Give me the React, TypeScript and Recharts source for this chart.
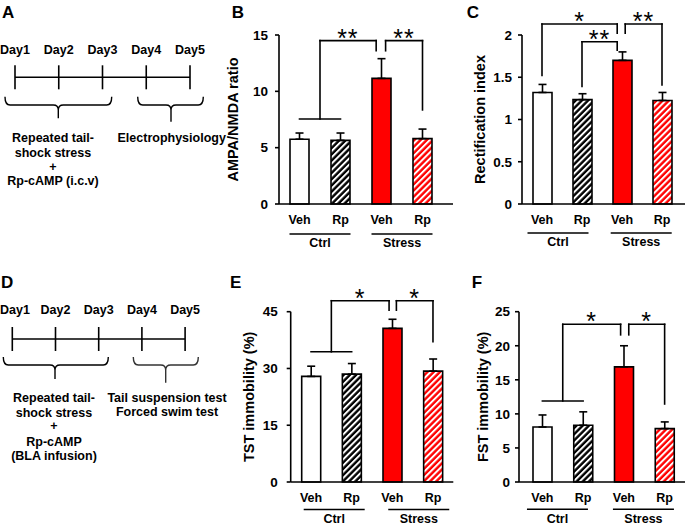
import React from 'react';
import { BarChart, Bar, XAxis, YAxis, ErrorBar, ReferenceLine, ReferenceDot, Cell } from 'recharts';

const FONT = '"Liberation Sans", Arial, Helvetica, sans-serif';
const STAR_FONT = '"Liberation Sans", Arial, sans-serif';

// ---------- categories ----------
const treatments = ['Veh', 'Rp', 'Veh', 'Rp'];
const barIndex = [0, 1, 2, 3];
const conditions = ['Ctrl', 'Stress'];

// ---------- B: AMPA/NMDA ratio ----------
const ampaMean = [5.75, 5.65, 11.15, 5.8];
const ampaSem = [0.55, 0.65, 1.75, 0.85];
const ampaTicks = [0, 5, 10, 15];
const ampaGroupCenters = [0.5, 2.5];
const ampaBrackets: number[][][] = [
  [[0, 7.55], [1, 7.55]],
  [[0.5, 7.55], [0.5, 14.5], [1.87, 14.5], [1.87, 13.6]],
  [[2.1, 13.6], [2.1, 14.5], [3, 14.5], [3, 8.35]],
];
const ampaStarPos = [[1.18, 14.5], [2.55, 14.5]];
const ampaStarText = ['**', '**'];

// ---------- C: Rectification index ----------
const rectMean = [1.32, 1.235, 1.7, 1.225];
const rectSem = [0.095, 0.07, 0.1, 0.095];
const rectTicks = [0, 0.5, 1, 1.5, 2];
const rectGroupCenters = [0.4, 2.48];
const rectBrackets: number[][][] = [
  [[0, 1.52], [0, 2.13], [1.88, 2.13], [1.88, 2.02]],
  [[1, 1.39], [1, 1.92], [1.88, 1.92], [1.88, 1.82]],
  [[2.08, 2.02], [2.08, 2.13], [3, 2.13], [3, 1.41]],
];
const rectStarPos = [[0.94, 2.13], [1.44, 1.92], [2.54, 2.13]];
const rectStarText = ['*', '**', '**'];

// ---------- E: TST immobility ----------
const tstMean = [27.9, 28.5, 40.6, 29.3];
const tstSem = [2.7, 2.8, 2.4, 3.2];
const tstTicks = [0, 15, 30, 45];
const tstGroupCenters = [0.57, 2.65];
const tstBrackets: number[][][] = [
  [[0, 34.4], [1, 34.4]],
  [[0.5, 34.4], [0.5, 47.9], [1.92, 47.9], [1.92, 45.4]],
  [[2.1, 45.4], [2.1, 47.9], [3, 47.9], [3, 37.1]],
];
const tstStarPos = [[1.21, 47.9], [2.55, 47.9]];
const tstStarText = ['*', '*'];

// ---------- F: FST immobility ----------
const fstMean = [8.07, 8.33, 16.9, 7.84];
const fstSem = [1.77, 1.97, 3.1, 0.98];
const fstTicks = [0, 5, 10, 15, 20, 25];
const fstGroupCenters = [0.37, 2.48];
const fstBrackets: number[][][] = [
  [[0, 11.9], [1, 11.9]],
  [[0.5, 11.9], [0.5, 23.15], [1.92, 23.15], [1.92, 21.6]],
  [[2.12, 21.6], [2.12, 23.15], [3, 23.15], [3, 11.45]],
];
const fstStarPos = [[1.21, 23.15], [2.56, 23.15]];
const fstStarText = ['*', '*'];

// ---------- timelines ----------
const days = ['Day1', 'Day2', 'Day3', 'Day4', 'Day5'];
const textA1 = ['Repeated tail-', 'shock stress', '+', 'Rp-cAMP (i.c.v)'];
const textA2 = ['Electrophysiology'];
const textD1 = ['Repeated tail-', 'shock stress', '+', 'Rp-cAMP', '(BLA infusion)'];
const textD2 = ['Tail suspension test', 'Forced swim test'];

const fills = (id: string) => ['#ffffff', `url(#hb-${id})`, '#ff0000', `url(#hr-${id})`];

function GroupTick(props: any) {
  const { x, y, payload, lineDy, textDy, centers } = props;
  const idx = centers.indexOf(payload.value);
  return (
    <g>
      <line x1={x - 30.5} x2={x + 30.5} y1={y + lineDy} y2={y + lineDy} stroke="#000" strokeWidth={1.6} />
      <text x={x} y={y + lineDy + textDy} textAnchor="middle" fontSize={12.5} fontWeight="bold" fill="#000" fontFamily={FONT}>
        {conditions[idx]}
      </text>
    </g>
  );
}

type PanelProps = {
  id: string;
  box: { left: number; top: number; width: number; height: number };
  margin: { top: number; right: number; bottom: number; left: number };
  yWidth: number;
  pad: { left: number; right: number };
  mean: number[];
  sem: number[];
  ticks: number[];
  groupCenters: number[];
  yLabel: string;
  yTickMargin: number;
  groupHeight: number;
  lineDy: number;
  textDy: number;
  brackets: number[][][];
  starPos: number[][];
  starText: string[];
};

function Panel(p: PanelProps) {
  const data = barIndex.map((x, i) => ({ x, v: p.mean[i], e: [0, p.sem[i]] }));
  const f = fills(p.id);
  const max = p.ticks[p.ticks.length - 1];
  return (
    <div style={{ position: 'absolute', left: p.box.left, top: p.box.top }}>
      <BarChart width={p.box.width} height={p.box.height} data={data} margin={p.margin}>
        <defs>
          <pattern id={`hb-${p.id}`} width="4.4" height="4.4" patternUnits="userSpaceOnUse" patternTransform="rotate(45)">
            <rect width="4.4" height="4.4" fill="#000" />
            <rect x="0" width="2" height="4.4" fill="#fff" />
          </pattern>
          <pattern id={`hr-${p.id}`} width="4.4" height="4.4" patternUnits="userSpaceOnUse" patternTransform="rotate(45)">
            <rect width="4.4" height="4.4" fill="#ff0000" />
            <rect x="0" width="2" height="4.4" fill="#fff" />
          </pattern>
        </defs>
        <XAxis
          dataKey="x"
          type="number"
          domain={[-0.5, 3.5]}
          allowDataOverflow
          ticks={barIndex}
          interval={0}
          tickFormatter={(v: number) => treatments[v]}
          tickLine={false}
          axisLine={{ stroke: '#000', strokeWidth: 1.6 }}
          tick={{ fontSize: 12.5, fontWeight: 'bold', fill: '#000' }}
          height={24}
          tickSize={6}
          tickMargin={5}
          padding={p.pad}
        />
        <XAxis
          xAxisId="g"
          dataKey="x"
          type="number"
          domain={[-0.5, 3.5]}
          allowDataOverflow
          ticks={p.groupCenters}
          interval={0}
          axisLine={false}
          tickLine={false}
          tickSize={0}
          tickMargin={0}
          height={p.groupHeight}
          padding={p.pad}
          tick={(tp: any) => <GroupTick {...tp} lineDy={p.lineDy} textDy={p.textDy} centers={p.groupCenters} />}
        />
        <YAxis
          type="number"
          domain={[0, max]}
          ticks={p.ticks}
          interval={0}
          width={p.yWidth}
          tickSize={4}
          tickMargin={p.yTickMargin}
          axisLine={{ stroke: '#000', strokeWidth: 1.6 }}
          tickLine={{ stroke: '#000', strokeWidth: 1.6 }}
          tick={{ fontSize: 13.5, fontWeight: 'bold', fill: '#000' }}
          label={{
            value: p.yLabel,
            angle: -90,
            position: 'insideLeft',
            offset: 5,
            style: { textAnchor: 'middle', fontSize: 14.5, fontWeight: 'bold', fill: '#000', fontFamily: FONT },
          }}
        />
        <Bar dataKey="v" barSize={19} stroke="#000" strokeWidth={1.6} isAnimationActive={false}>
          {data.map((d, i) => (
            <Cell key={i} fill={f[i]} />
          ))}
          <ErrorBar dataKey="e" width={4} stroke="#000" strokeWidth={1.6} direction="y" isAnimationActive={false} />
        </Bar>
        {p.brackets.flatMap((line, li) =>
          line.slice(1).map((pt, i) => (
            <ReferenceLine
              key={`b${li}-${i}`}
              segment={[
                { x: line[i][0], y: line[i][1] },
                { x: pt[0], y: pt[1] },
              ]}
              stroke="#000"
              strokeWidth={1.6}
              strokeLinecap="square"
              ifOverflow="visible"
            />
          ))
        )}
        {p.starPos.map((s, i) => (
          <ReferenceDot
            key={`s${i}`}
            x={s[0]}
            y={s[1]}
            r={0}
            ifOverflow="visible"
            shape={(dp: any) => (
              <text x={dp.cx} y={dp.cy + 6} textAnchor="middle" fontFamily={STAR_FONT} fontSize={25} letterSpacing={1} fill="#000" stroke="none">
                {p.starText[i]}
              </text>
            )}
          />
        ))}
      </BarChart>
    </div>
  );
}

function brace(x1: number, x2: number, xm: number, yTop: number, yBot: number, ySpike: number) {
  return `M${x1},${yTop} Q${x1},${yBot} ${x1 + 5},${yBot} H${xm - 5} Q${xm},${yBot} ${xm},${yBot + 5} V${ySpike} M${xm},${yBot + 5} Q${xm},${yBot} ${xm + 5},${yBot} H${x2 - 5} Q${x2},${yBot} ${x2},${yTop}`;
}

function Timeline(props: { x0: number; step: number; dayY: number; lineY: number; tickH: number }) {
  const { x0, step, dayY, lineY, tickH } = props;
  const xs = days.map((_, i) => x0 + i * step);
  return (
    <g>
      {days.map((d, i) => (
        <text key={d} x={Math.max(xs[i], 15)} y={dayY} textAnchor="middle" fontSize={12.5} fontWeight="bold">
          {d}
        </text>
      ))}
      <line x1={xs[0]} x2={xs[4]} y1={lineY} y2={lineY} stroke="#000" strokeWidth={1.6} />
      {xs.map((x, i) => (
        <line key={i} x1={x} x2={x} y1={lineY - tickH} y2={lineY + tickH} stroke="#000" strokeWidth={1.6} />
      ))}
    </g>
  );
}

function Lines(props: { lines: string[]; x: number; y: number; dy: number[] }) {
  return (
    <g>
      {props.lines.map((t, i) => (
        <text key={i} x={props.x} y={props.y + props.dy[i]} textAnchor="middle" fontSize={12.5} fontWeight="bold">
          {t}
        </text>
      ))}
    </g>
  );
}

export default function App() {
  return (
    <div style={{ position: 'absolute', left: 0, top: 0, width: 685, height: 525, background: '#fff', fontFamily: FONT, overflow: 'hidden' }}>
      <Panel
        id="b"
        box={{ left: 220, top: 0, width: 240, height: 262 }}
        margin={{ top: 35, right: 7, bottom: 4, left: 8 }}
        yWidth={51}
        pad={{ left: 0, right: 10 }}
        mean={ampaMean}
        sem={ampaSem}
        ticks={ampaTicks}
        groupCenters={ampaGroupCenters}
        yLabel="AMPA/NMDA ratio"
        yTickMargin={7}
        groupHeight={30}
        lineDy={6}
        textDy={12.5}
        brackets={ampaBrackets}
        starPos={ampaStarPos}
        starText={ampaStarText}
      />
      <Panel
        id="c"
        box={{ left: 460, top: 0, width: 225, height: 262 }}
        margin={{ top: 35, right: 0, bottom: 4, left: 15 }}
        yWidth={47}
        pad={{ left: 0, right: 3 }}
        mean={rectMean}
        sem={rectSem}
        ticks={rectTicks}
        groupCenters={rectGroupCenters}
        yLabel="Rectification index"
        yTickMargin={6}
        groupHeight={30}
        lineDy={5}
        textDy={13}
        brackets={rectBrackets}
        starPos={rectStarPos}
        starText={rectStarText}
      />
      <Panel
        id="e"
        box={{ left: 220, top: 270, width: 240, height: 255 }}
        margin={{ top: 41.7, right: 6.7, bottom: 0, left: 24.3 }}
        yWidth={46.4}
        pad={{ left: 0, right: 0 }}
        mean={tstMean}
        sem={tstSem}
        ticks={tstTicks}
        groupCenters={tstGroupCenters}
        yLabel="TST immobility (%)"
        yTickMargin={9}
        groupHeight={19}
        lineDy={3.5}
        textDy={13.3}
        brackets={tstBrackets}
        starPos={tstStarPos}
        starText={tstStarText}
      />
      <Panel
        id="f"
        box={{ left: 460, top: 270, width: 225, height: 255 }}
        margin={{ top: 41.7, right: 0, bottom: 0, left: 18.3 }}
        yWidth={40.7}
        pad={{ left: 3, right: 0 }}
        mean={fstMean}
        sem={fstSem}
        ticks={fstTicks}
        groupCenters={fstGroupCenters}
        yLabel="FST immobility (%)"
        yTickMargin={5}
        groupHeight={19}
        lineDy={3.3}
        textDy={13.5}
        brackets={fstBrackets}
        starPos={fstStarPos}
        starText={fstStarText}
      />
      <svg width={685} height={525} style={{ position: 'absolute', left: 0, top: 0, pointerEvents: 'none' }} fontFamily={FONT} fill="#000">
        <g fontSize={17} fontWeight="bold">
          <text x={2} y={18.3}>A</text>
          <text x={231.7} y={18.3}>B</text>
          <text x={466.7} y={18.3}>C</text>
          <text x={1} y={288}>D</text>
          <text x={230} y={288}>E</text>
          <text x={471.7} y={288}>F</text>
        </g>
        {/* A */}
        <Timeline x0={15} step={43.75} dayY={54.3} lineY={77.3} tickH={12} />
        <path d={brace(5, 111.7, 58.3, 96.7, 105, 118.3)} fill="none" stroke="#000" strokeWidth={1.4} />
        <path d={brace(137.7, 203.3, 171, 96.7, 105, 121.7)} fill="none" stroke="#000" strokeWidth={1.4} />
        <Lines lines={textA1} x={53} y={141.6} dy={[0, 15.4, 29, 43.7]} />
        <Lines lines={textA2} x={171.7} y={142.3} dy={[0]} />
        {/* D */}
        <Timeline x0={12.3} step={43.2} dayY={314.3} lineY={339} tickH={12} />
        <path d={brace(3.3, 108.3, 55, 357, 365, 379)} fill="none" stroke="#000" strokeWidth={1.4} />
        <path d={brace(133.3, 198.3, 165.7, 357, 365, 382.7)} fill="none" stroke="#333" strokeWidth={1.4} />
        <Lines lines={textD1} x={54} y={401.6} dy={[0, 15, 28.5, 44.4, 58.4]} />
        <Lines lines={textD2} x={167} y={401.6} dy={[0, 14.4]} />
      </svg>
    </div>
  );
}
